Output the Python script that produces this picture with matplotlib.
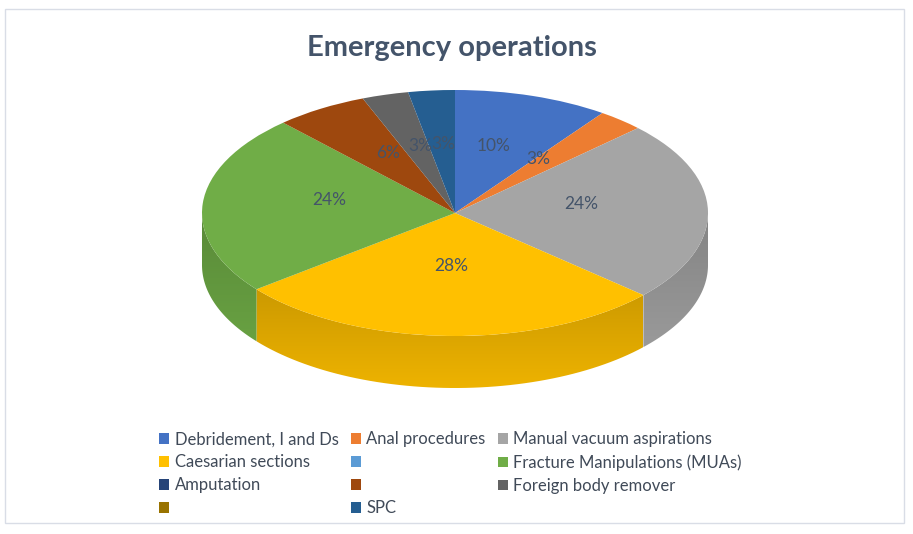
import numpy as np
import matplotlib.pyplot as plt
from matplotlib.patches import Patch, Polygon, Rectangle
from matplotlib.transforms import Affine2D
from matplotlib.colors import to_rgb

plt.rcParams['font.family'] = ['Lato', 'DejaVu Sans']

# data
names = ['Debridement, I and Ds', 'Anal procedures', 'Manual vacuum aspirations',
         'Caesarian sections', '', 'Fracture Manipulations (MUAs)', 'Amputation',
         '', 'Foreign body remover', '', 'SPC']
values = [10, 3, 24, 28, 0, 24, 0, 6, 3, 0, 3]
colors = ['#4472C4', '#ED7D31', '#A5A5A5', '#FFC000', '#5B9BD5', '#70AD47',
          '#264478', '#9E480E', '#636363', '#997300', '#255E91']

W, H = 913, 534
fig = plt.figure(figsize=(W / 100, H / 100), dpi=100)
ax = fig.add_axes([0, 0, 1, 1])

cx, cy = 455, H - 213
rx, ry = 253, 123
depth = 52
k = ry / rx
squash = Affine2D().translate(-cx, -cy).scale(1, k).translate(cx, cy) + ax.transData

wedges, _ = ax.pie(values, colors=colors, startangle=90, counterclock=False,
                   center=(cx, cy), radius=rx, wedgeprops=dict(linewidth=0))

# side walls of the front half, drawn under the top face
for w, c in zip(wedges, colors):
    w.set_transform(squash)
    w.set_zorder(3)
    a, b = max(w.theta1, -180), min(w.theta2, 0)
    if b <= a:
        continue
    t = np.radians(np.linspace(a, b, 60))
    xs = cx + rx * np.cos(t)
    ys = cy + ry * np.sin(t)
    pts = np.vstack([np.column_stack([xs, ys]),
                     np.column_stack([xs[::-1], ys[::-1] - depth])])
    poly = Polygon(pts, closed=True, facecolor='none', edgecolor='none', zorder=2)
    ax.add_patch(poly)
    # darker near the rim, a bit lighter toward the bottom
    shade = np.linspace(0.80, 0.93, 40)[:, None]
    img = np.clip(np.array(to_rgb(c))[None, None, :] * shade[:, :, None], 0, 1)
    y0, y1 = pts[:, 1].min(), pts[:, 1].max()
    im = ax.imshow(img, extent=(pts[:, 0].min(), pts[:, 0].max(), y0, y1),
                   origin='upper', aspect='auto', zorder=2, interpolation='bilinear')
    im.set_clip_path(poly)

ax.set_xlim(0, W)
ax.set_ylim(0, H)
ax.set_aspect('auto')
ax.axis('off')

# percentage labels
for w, v in zip(wedges, values):
    if v == 0:
        continue
    m = np.radians((w.theta1 + w.theta2) / 2)
    f = 0.5
    lx = cx + f * rx * np.cos(m)
    ly = cy + 8 + f * ry * np.sin(m)
    ax.text(lx, ly, f'{v}%', ha='center', va='center', fontsize=12.5,
            color='#44546A', zorder=5)

# chart border and title
ax.add_patch(Rectangle((5, H - 523), 899, 514, fill=False, edgecolor='#D9DDE6',
                       linewidth=1, zorder=1))
ax.text(452, H - 48, 'Emergency operations', ha='center', va='center',
        fontsize=21, fontweight='bold', color='#44546A')

handles = [Patch(facecolor=c, edgecolor='none') for c in colors]
order = [0, 3, 6, 9, 1, 4, 7, 10, 2, 5, 8]
fig.legend([handles[i] for i in order], [names[i] for i in order], ncol=3,
           loc='upper left', bbox_to_anchor=(151 / W, 1 - 423 / H), frameon=False,
           fontsize=12, labelcolor='#404A58', handlelength=0.6, handleheight=0.6,
           handletextpad=0.32, columnspacing=0.75, labelspacing=0.42, borderpad=0)

fig.savefig('out.png', dpi=100)
